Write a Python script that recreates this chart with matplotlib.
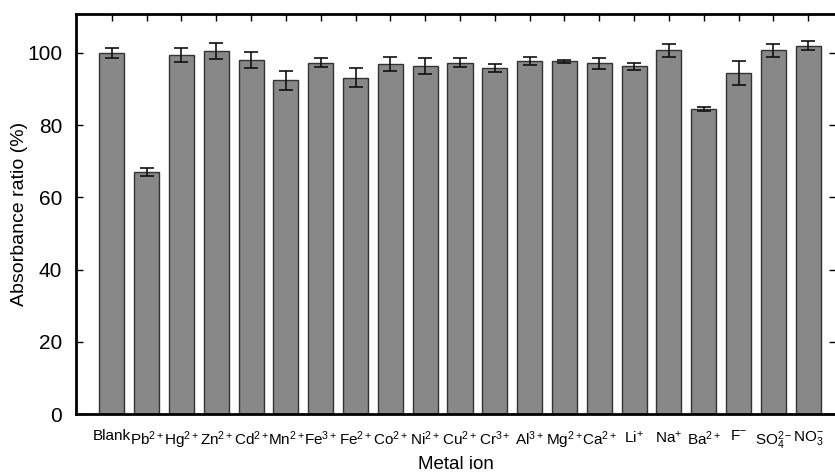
import matplotlib
matplotlib.use("Agg")
import matplotlib.pyplot as plt
import numpy as np

plt.rcParams['font.family'] = ['Liberation Sans', 'DejaVu Sans']
plt.rcParams['mathtext.fontset'] = 'custom'
plt.rcParams['mathtext.rm'] = 'Liberation Sans'
plt.rcParams['mathtext.it'] = 'Liberation Sans'
plt.rcParams['mathtext.default'] = 'regular'

# data
ions = ['Blank', r'Pb$^{2+}$', r'Hg$^{2+}$', r'Zn$^{2+}$', r'Cd$^{2+}$', r'Mn$^{2+}$',
        r'Fe$^{3+}$', r'Fe$^{2+}$', r'Co$^{2+}$', r'Ni$^{2+}$', r'Cu$^{2+}$', r'Cr$^{3+}$',
        r'Al$^{3+}$', r'Mg$^{2+}$', r'Ca$^{2+}$', r'Li$^{+}$', r'Na$^{+}$', r'Ba$^{2+}$',
        r'F$^{-}$', r'SO$_4^{2-}$', r'NO$_3^{-}$']
ratio = [100.0, 67.0, 99.4, 100.6, 98.1, 92.4, 97.3, 93.2, 97.0, 96.4, 97.3, 95.9,
         97.8, 97.7, 97.1, 96.3, 100.7, 84.4, 94.4, 100.7, 102.0]
err = [1.5, 1.2, 2.0, 2.3, 2.2, 2.6, 1.2, 2.6, 1.9, 2.3, 1.3, 1.1,
       1.0, 0.4, 1.6, 0.9, 1.9, 0.6, 3.4, 1.9, 1.2]

x = np.arange(len(ions))

fig = plt.figure(figsize=(8.35, 4.74), dpi=100)
ax = fig.add_axes([76 / 835, 60 / 474, 760 / 835, 400 / 474])

ax.bar(x, ratio, width=0.72, color='#888888', edgecolor='#333333', linewidth=1.0,
       yerr=err, capsize=5, error_kw=dict(ecolor='#111111', elinewidth=1.2, capthick=1.2))

ax.set_xlim(-1.03, 20.8)
ax.set_ylim(0, 110.8)
ax.set_yticks([0, 20, 40, 60, 80, 100])
ax.set_xticks(x)
ax.set_xticklabels(ions, fontsize=11)

ax.tick_params(axis='y', direction='in', right=True, length=5, width=1, labelsize=15, pad=10)
ax.tick_params(axis='x', direction='in', top=True, bottom=False, length=5, width=1, pad=11)

for s in ax.spines.values():
    s.set_linewidth(2)

ax.set_xlabel('Metal ion', fontsize=13.5, labelpad=3)
ax.set_ylabel('Absorbance ratio (%)', fontsize=14, labelpad=-1)

fig.savefig('out.png', dpi=100)
